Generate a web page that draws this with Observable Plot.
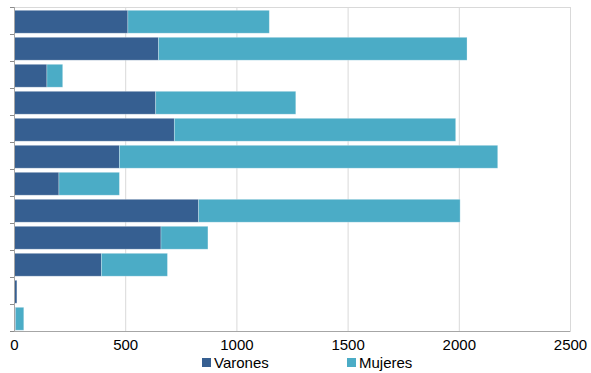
<!DOCTYPE html>
<html>
<head>
<meta charset="utf-8">
<script src="https://cdn.jsdelivr.net/npm/d3@7"></script>
<script src="https://cdn.jsdelivr.net/npm/@observablehq/plot@0.6"></script>
<style>
  body { margin: 0; background: #fff; font-family: "Liberation Sans", Arial, sans-serif; }
  #chart { position: relative; width: 591px; height: 373px; }
  #chart svg { position: absolute; left: 0; top: 0; }
  .legend { position: absolute; left: 0; top: 354px; width: 591px; height: 18px; font-size: 15px; line-height: 17px; color: #000; }
  .legend .item { position: absolute; top: 0; display: flex; align-items: center; }
  .legend .sw { width: 9px; height: 9px; margin-right: 3px; }
</style>
</head>
<body>
<div id="chart"></div>
<script>
const categories = ["1","2","3","4","5","6","7","8","9","10","11","12"];
const series = ["Varones", "Mujeres"];
const varones = [512, 650, 148, 637, 721, 474, 202, 830, 661, 393, 13, 7];
const mujeres = [636, 1387, 71, 630, 1265, 1701, 272, 1176, 211, 297, 0, 37];
const xTicks = [0, 500, 1000, 1500, 2000, 2500];
const colors = ["#365f91", "#4bacc6"];

const data = [];
categories.forEach((c, i) => {
  data.push({cat: c, serie: "Varones", value: varones[i]});
  data.push({cat: c, serie: "Mujeres", value: mujeres[i]});
});

const plot = Plot.plot({
  width: 591,
  height: 373,
  marginTop: 7,
  marginBottom: 42,
  marginLeft: 14,
  marginRight: 21,
  style: {fontFamily: "Liberation Sans, Arial, sans-serif", fontSize: "15px", color: "#000"},
  x: {domain: [0, 2500], ticks: xTicks},
  y: {domain: categories, padding: 0},
  color: {domain: series, range: colors},
  marks: [
    Plot.gridX(xTicks, {stroke: "#d9d9d9", strokeOpacity: 1}),
    Plot.frame({stroke: "#d9d9d9"}),
    Plot.barX(data, {
      x: "value", y: "cat", fill: "serie",
      insetTop: 3.3, insetBottom: 0.8,
      stroke: "#ffffff", strokeOpacity: 0.35, strokeWidth: 0.8
    }),
    Plot.ruleY(categories, {y: d => d, dy: -13.5, x1: -18, x2: 0, stroke: "#8c8c8c"}),
    Plot.ruleY([categories[categories.length - 1]], {y: d => d, dy: 13.5, x1: -18, x2: 0, stroke: "#8c8c8c"}),
    Plot.ruleX([0], {stroke: "#a6a6a6"}),
    Plot.ruleY([categories[categories.length - 1]], {y: d => d, dy: 13.5, x1: 0, x2: 2500, stroke: "#a6a6a6"}),
    Plot.axisX(xTicks, {tickSize: 0, tickPadding: 8, label: null, fontSize: 15, fill: "#000", tickFormat: d => String(d)}),
    Plot.axisY({ticks: [], label: null, tickSize: 0})
  ]
});
document.getElementById("chart").appendChild(plot);

const legend = document.createElement("div");
legend.className = "legend";
const positions = [202, 347];
series.forEach((s, i) => {
  const item = document.createElement("div");
  item.className = "item";
  item.style.left = positions[i] + "px";
  const sw = document.createElement("span");
  sw.className = "sw";
  sw.style.background = colors[i];
  const t = document.createElement("span");
  t.textContent = s;
  item.appendChild(sw);
  item.appendChild(t);
  legend.appendChild(item);
});
document.getElementById("chart").appendChild(legend);
</script>
</body>
</html>
